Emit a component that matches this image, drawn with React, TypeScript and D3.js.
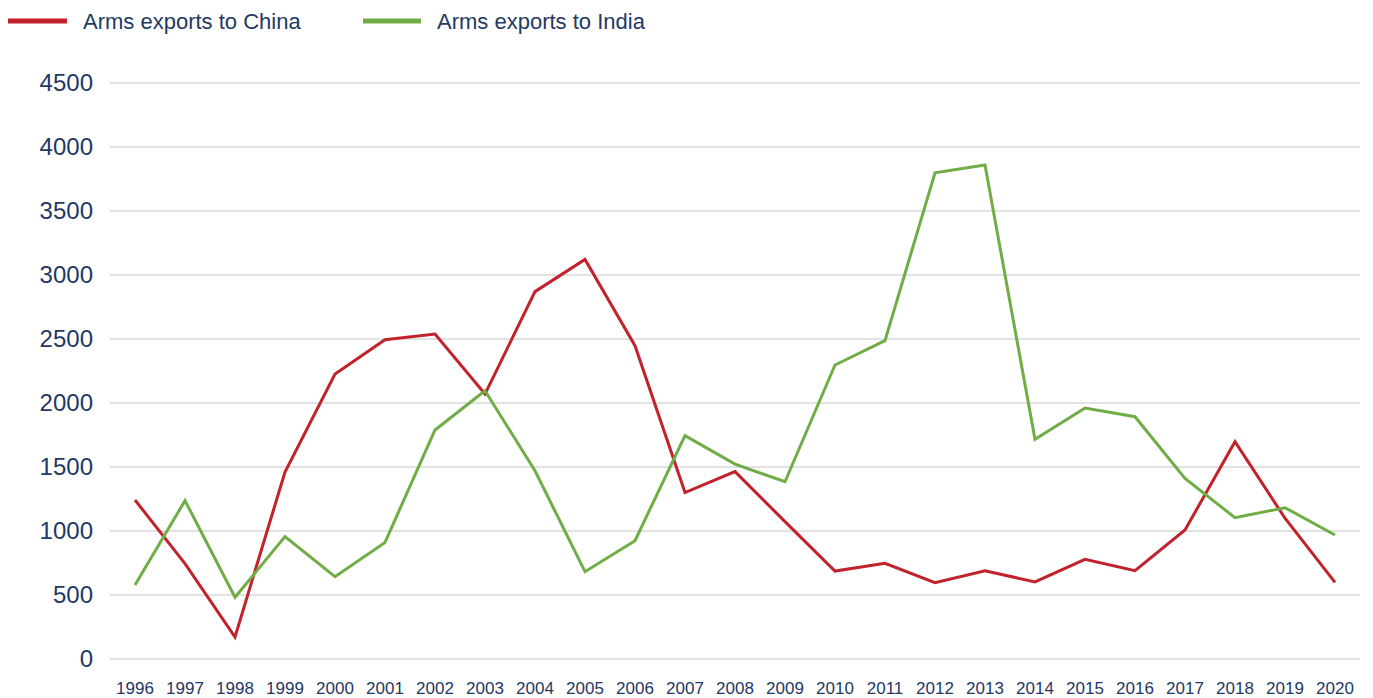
import React from "react";
import { scaleLinear, scalePoint, line } from "d3";

const width = 1373;
const height = 698;
const margin = { top: 83, right: 13, bottom: 39, left: 110 };

const years = [
  "1996", "1997", "1998", "1999", "2000", "2001", "2002", "2003", "2004",
  "2005", "2006", "2007", "2008", "2009", "2010", "2011", "2012", "2013",
  "2014", "2015", "2016", "2017", "2018", "2019", "2020",
];

const china = [
  1242, 745, 172, 1461, 2227, 2495, 2539, 2070, 2870, 3122, 2448, 1300, 1464,
  1073, 687, 747, 596, 690, 602, 779, 690, 1008, 1698, 1100, 599,
];

const india = [
  578, 1237, 482, 956, 643, 911, 1789, 2096, 1471, 682, 924, 1745, 1523, 1385,
  2297, 2487, 3799, 3859, 1716, 1961, 1893, 1411, 1104, 1182, 969,
];

const yTicks = [0, 500, 1000, 1500, 2000, 2500, 3000, 3500, 4000, 4500];

const series = [
  { name: "Arms exports to China", values: china, color: "#c1222b" },
  { name: "Arms exports to India", values: india, color: "#70ad47" },
];

const textColor = "#1f3864";
const font = "'Liberation Sans', Arial, sans-serif";

export default function App() {
  const x = scalePoint<string>()
    .domain(years)
    .range([135, 1335]);

  const y = scaleLinear()
    .domain([0, 4500])
    .range([height - margin.bottom, margin.top]);

  const path = line<number>()
    .x((d, i) => x(years[i]) as number)
    .y((d) => y(d));

  return (
    <svg
      width={width}
      height={height}
      style={{ position: "absolute", left: 0, top: 0, background: "#fff" }}
      fontFamily={font}
    >
      {/* gridlines + y labels */}
      {yTicks.map((t) => (
        <g key={t}>
          <line
            x1={margin.left}
            x2={width - margin.right}
            y1={y(t)}
            y2={y(t)}
            stroke="#d9d9d9"
            strokeWidth={1.5}
          />
          <text
            x={93}
            y={y(t)}
            dy="0.35em"
            textAnchor="end"
            fontSize={24}
            fill={textColor}
          >
            {t}
          </text>
        </g>
      ))}

      {/* x labels */}
      {years.map((yr) => (
        <text
          key={yr}
          x={x(yr)}
          y={694}
          textAnchor="middle"
          fontSize={17}
          fill={textColor}
        >
          {yr}
        </text>
      ))}

      {/* lines */}
      {series.map((s) => (
        <path
          key={s.name}
          d={path(s.values) || ""}
          fill="none"
          stroke={s.color}
          strokeWidth={3}
          strokeLinejoin="miter"
        />
      ))}

      {/* legend */}
      <g>
        <line x1={8} x2={67} y1={21} y2={21} stroke={series[0].color} strokeWidth={5} />
        <text x={83} y={21} dy="0.35em" fontSize={22} fill={textColor}>
          {series[0].name}
        </text>
        <line x1={363} x2={421} y1={21} y2={21} stroke={series[1].color} strokeWidth={5} />
        <text x={437} y={21} dy="0.35em" fontSize={22} fill={textColor}>
          {series[1].name}
        </text>
      </g>
    </svg>
  );
}
